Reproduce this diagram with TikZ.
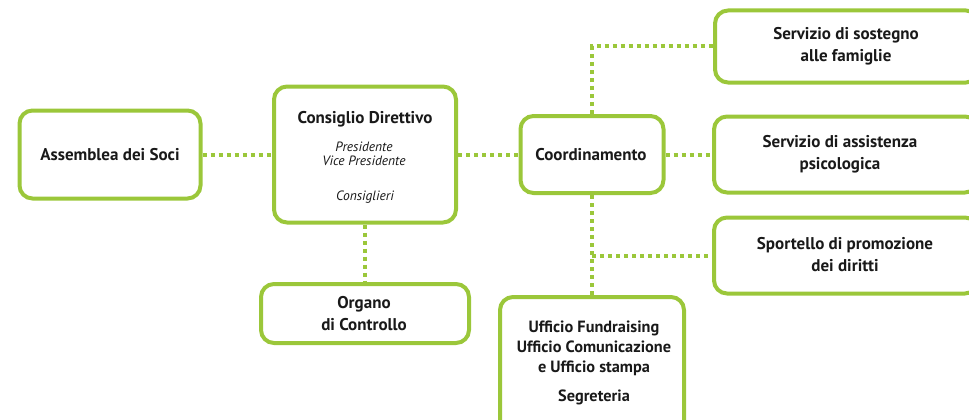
\documentclass[tikz,border=0pt]{standalone}
\usepackage{fontspec}
\setmainfont{PT Sans}
\definecolor{lime}{RGB}{155,199,58}
\definecolor{ink}{RGB}{25,25,25}
\begin{document}
\begin{tikzpicture}[x=1pt,y=-1pt,
  box/.style={draw=lime,line width=4pt,rounded corners=13pt,fill=white,inner sep=0pt},
  txt/.style={text=ink,align=center,font=\bfseries\fontsize{17}{22}\selectfont,inner sep=0pt},
  uft/.style={text=ink,align=center,font=\bfseries\fontsize{16.3}{20}\selectfont,inner sep=0pt},
  sub/.style={text=ink,align=center,font=\itshape\fontsize{13.5}{14.5}\selectfont,inner sep=0pt},
  link/.style={draw=lime,line width=4pt,dash pattern=on 4pt off 4pt}]
\useasboundingbox (0,0) rectangle (969,420);
\clip (0,0) rectangle (969,420);
% boxes
\node[box,minimum width=181pt,minimum height=88pt] (ass) at (110,154.5) {};
\node[box,minimum width=182pt,minimum height=136pt] (cd) at (365,154.5) {};
\node[box,minimum width=208pt,minimum height=59pt] (oc) at (365,313.5) {};
\node[box,minimum width=143pt,minimum height=77pt] (co) at (592,154.5) {};
\node[box,minimum width=264pt,minimum height=72pt] (s1) at (847,46.5) {};
\node[box,minimum width=264pt,minimum height=76pt] (s2) at (846,154.5) {};
\node[box,minimum width=264pt,minimum height=76pt] (s3) at (846,255.5) {};
\node[box,minimum width=184pt,minimum height=140pt] (uf) at (592,367) {};
% texts
\node[txt] (tass) at (ass) {Assemblea dei Soci};
\node[txt] (tcd) at (365,119) {Consiglio Direttivo};
\node[sub] (tcd2) at (364,154) {Presidente\\Vice Presidente};
\node[sub] (tcd3) at (365,197) {Consiglieri};
\node[txt] (toc) at (364,314) {Organo\\di Controllo};
\node[txt] (tco) at (591,155) {Coordinamento};
\node[txt] (ts1) at (846,46) {Servizio di sostegno\\alle famiglie};
\node[txt] (ts2) at (840,154.5) {Servizio di assistenza\\psicologica};
\node[txt] (ts3) at (845,255) {Sportello di promozione\\dei diritti};
\node[uft] (tuf) at (594,348) {Ufficio Fundraising\\Ufficio Comunicazione\\e Ufficio stampa};
\node[uft] (tuf2) at (594,397) {Segreteria};
% connectors
\coordinate (j1) at (co.north |- s1.west);
\coordinate (j3) at (co.south |- s3.west);
\draw[link] (ass.east) -- (cd.west);
\draw[link] (cd.east) -- (co.west);
\draw[link] (co.east) -- (s2.west);
\draw[link] (cd.south) -- (oc.north);
\draw[link] (co.north) -- (j1) -- (s1.west);
\draw[link] (co.south) -- (uf.north);
\draw[link] (j3) -- (s3.west);
\end{tikzpicture}
\end{document}
